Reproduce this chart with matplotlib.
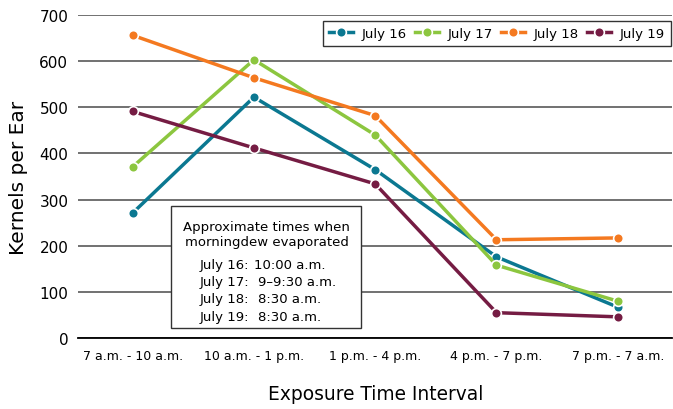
import matplotlib.pyplot as plt
from matplotlib.patches import Rectangle

plt.rcParams['font.family'] = ['DejaVu Sans']

intervals = ['7 a.m. - 10 a.m.', '10 a.m. - 1 p.m.', '1 p.m. - 4 p.m.', '4 p.m. - 7 p.m.', '7 p.m. - 7 a.m.']
july16 = [271, 522, 365, 176, 67]
july17 = [371, 603, 440, 158, 80]
july18 = [656, 564, 482, 213, 217]
july19 = [491, 412, 334, 55, 46]
labels = ['July 16', 'July 17', 'July 18', 'July 19']
colors = ['#0b7891', '#8cc63f', '#f47920', '#751c43']
dew_title = ['Approximate times when', 'morningdew evaporated']
dew_days = ['July 16:', 'July 17:', 'July 18:', 'July 19:']
dew_times = ['10:00 a.m.', '9\u20139:30 a.m.', '8:30 a.m.', '8:30 a.m.']

fig = plt.figure(figsize=(6.73, 4.10), dpi=100)
ax = fig.add_axes([0.116, 0.173, 0.883, 0.788])

x = list(range(len(intervals)))
for vals, lab, c in zip([july16, july17, july18, july19], labels, colors):
    ax.plot(x, vals, color=c, lw=2.5, marker='o', ms=7, mfc=c, mec='white', mew=1.2,
            label=lab, zorder=3)

ax.set_xlim(-0.45, 4.45)
ax.set_ylim(0, 700)
ax.set_yticks(range(0, 701, 100))
ax.yaxis.grid(True, color='#666666', lw=1.3)
ax.set_axisbelow(True)
for s in ['left', 'right', 'top']:
    ax.spines[s].set_visible(False)
ax.spines['bottom'].set_color('black')
ax.spines['bottom'].set_linewidth(1.3)
ax.tick_params(axis='y', length=0, pad=7, labelsize=11)
ax.tick_params(axis='x', length=0, pad=8, labelsize=9)
ax.set_xticks(x)
ax.set_xticklabels(intervals)
ax.set_ylabel('Kernels per Ear', fontsize=14.5, labelpad=8)
ax.set_xlabel('Exposure Time Interval', fontsize=13.4, labelpad=16)

leg = ax.legend(loc='upper right', ncol=4, bbox_to_anchor=(0.998, 0.981), frameon=True,
                fancybox=False, edgecolor='black', fontsize=9.5, handlelength=1.8,
                columnspacing=0.6, borderpad=0.45, handletextpad=0.7, borderaxespad=0)
leg.get_frame().set_linewidth(1.0)

# note box about dew
ax.add_patch(Rectangle((0.32, 22), 1.56, 264, fc='white', ec='#333333', lw=1.0, zorder=5))
ax.text(1.105, 241, dew_title[0], fontsize=9.5, ha='center', va='center', zorder=6)
ax.text(1.105, 210, dew_title[1], fontsize=9.5, ha='center', va='center', zorder=6)
for i, (d, t) in enumerate(zip(dew_days, dew_times)):
    ax.text(0.55, 160 - i * 37.5, d, fontsize=9.5, ha='left', va='center', zorder=6)
    ax.text(1.0 if i == 0 else 1.03, 160 - i * 37.5, t, fontsize=9.5, ha='left', va='center', zorder=6)

fig.savefig('out.png', dpi=100)
